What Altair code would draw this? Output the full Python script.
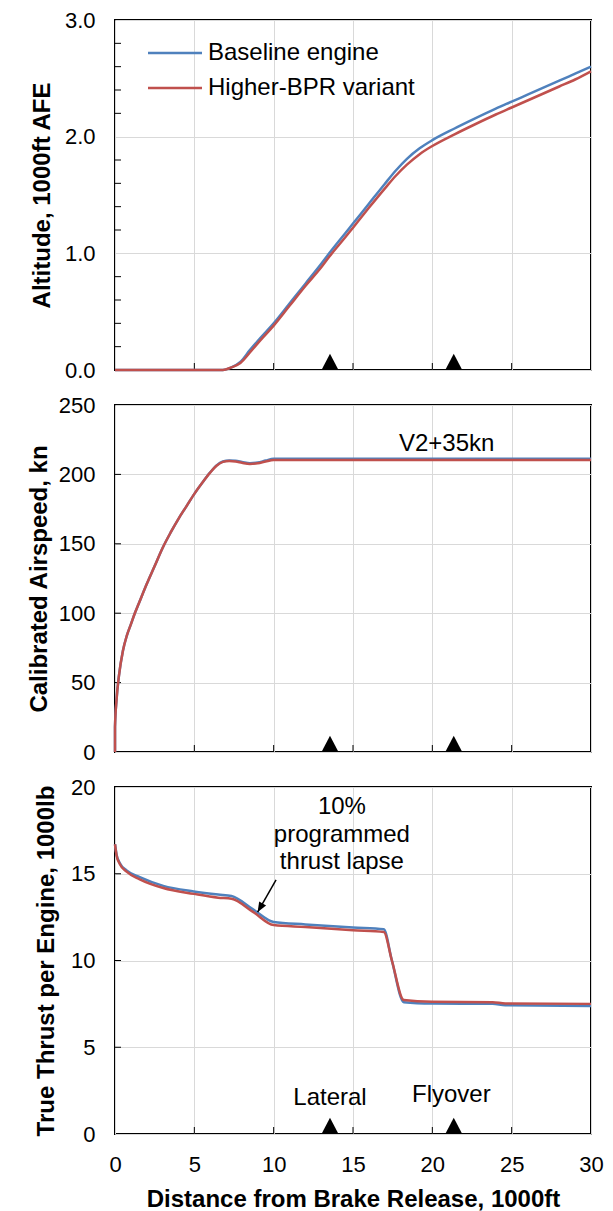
import altair as alt
import pandas as pd

FONT = "Liberation Sans"
SERIES = ["Baseline engine", "Higher-BPR variant"]
COLORS = ["#4F81BD", "#C0504D"]

# ---------------- data ----------------
alt_dist = [0, 6.8, 7.3, 7.9, 8.5, 9.2, 10.0, 11.0, 12.0, 13.0, 13.5, 14.5, 15.0, 16.0,
            17.0, 17.7, 18.4, 19.2, 20.0, 21.4, 22.6, 24.0, 25.0, 26.0, 27.0, 28.0, 29.0, 30.0]
alt_base = [0, 0, 0.02, 0.07, 0.17, 0.28, 0.40, 0.57, 0.74, 0.91, 1.0, 1.17, 1.255, 1.425,
            1.595, 1.71, 1.81, 1.90, 1.97, 2.07, 2.15, 2.24, 2.30, 2.36, 2.42, 2.48, 2.54, 2.60]
alt_bpr = [0, 0, 0.02, 0.06, 0.15, 0.26, 0.38, 0.55, 0.72, 0.88, 0.97, 1.135, 1.22, 1.39,
           1.555, 1.665, 1.76, 1.85, 1.92, 2.02, 2.10, 2.19, 2.25, 2.31, 2.37, 2.43, 2.49, 2.56]

cas_dist = [0, 0, 0.1, 0.25, 0.5, 0.75, 1.0, 1.25, 1.5, 2.0, 2.5, 3.0, 3.5, 4.0, 4.5,
            5.0, 5.5, 6.0, 6.4, 6.8, 7.2, 7.6, 8.0, 8.5, 9.0, 9.5, 10.0, 30.0]
cas_base = [0, 18, 38, 55, 73, 84, 92, 100, 107, 121, 134, 147, 158, 168, 177,
            186, 194, 201.5, 206.5, 209.3, 210, 209.8, 209, 208, 208.5, 210, 211.3, 211.3]
cas_bpr = [0, 18, 38, 55, 73, 84, 92, 100, 107, 121, 134, 147, 158, 168, 177,
           186, 194, 201.3, 206.2, 209, 209.6, 209.3, 208.4, 207.5, 208, 209.3, 210.3, 210.3]

thr_dist = [0, 0.1, 0.3, 0.73, 1.56, 3.04, 4.96, 6.5, 7.34, 8.7, 10.0, 12.0, 15.0, 16.94,
            17.45, 18.2, 20.0, 23.8, 24.6, 30.0]
thr_base = [16.7, 16.1, 15.62, 15.19, 14.8, 14.3, 13.98, 13.8, 13.72, 12.95, 12.22, 12.08,
            11.9, 11.8, 10.0, 7.6, 7.52, 7.5, 7.42, 7.38]
thr_bpr = [16.7, 16.05, 15.56, 15.12, 14.68, 14.18, 13.84, 13.62, 13.56, 12.8, 12.04, 11.93,
           11.74, 11.64, 10.0, 7.72, 7.62, 7.6, 7.52, 7.5]

x_ticks = [0, 5, 10, 15, 20, 25, 30]
x_inner = [5, 10, 15, 20, 25]
alt_ticks = [0, 1, 2, 3]
alt_minor = [0.2, 0.4, 0.6, 0.8, 1.2, 1.4, 1.6, 1.8, 2.2, 2.4, 2.6, 2.8]
cas_ticks = [0, 50, 100, 150, 200, 250]
cas_inner = [50, 100, 150, 200]
thr_ticks = [0, 5, 10, 15, 20]
thr_inner = [5, 10, 15]

station_dist = [13.55, 21.35]
station_names = ["Lateral", "Flyover"]
station_text_x = [13.55, 21.2]
station_text_y = [2.05, 2.25]

note_lines = ["10%", "programmed", "thrust lapse"]
note_x = [14.3, 14.3, 14.3]
note_y = [18.85, 17.25, 15.65]
arrow_from = (10.15, 14.65)
arrow_to = (8.99, 12.79)

v2_text = "V2+35kn"
v2_pos = (20.9, 222)

W = 476
H1, H2, H3 = 350, 347, 347
LBL = 22
TTL = 24
TXT = 24

xs = alt.Scale(domain=[0, 30], nice=False, zero=False)
x_hidden = alt.Axis(values=x_ticks, labels=False, title=None, grid=True)
x_bottom = alt.Axis(values=x_ticks, labelFontSize=LBL, labelPadding=20, labelFlush=False,
                    title="Distance from Brake Release, 1000ft", titleFontSize=TTL,
                    titleFontWeight="bold", titlePadding=12, grid=True)


def y_axis(vals, fmt, title, tx):
    return alt.Axis(values=vals, format=fmt, labelFontSize=LBL, labelPadding=20,
                    title=title, titleFontSize=TTL, titleFontWeight="bold",
                    titleX=tx, titleBaseline="middle", grid=True)


def panel(dist, ys_list, dom, yax, xax, H, inner_y):
    ysc = alt.Scale(domain=dom, nice=False, zero=False)
    X = alt.X("d:Q", scale=xs, axis=xax)
    Y = alt.Y("v:Q", scale=ysc, axis=yax)
    layers = []
    # inward ticks on bottom axis
    tdf = pd.DataFrame({"d": x_inner})
    layers.append(alt.Chart(tdf).mark_rule(color="black", strokeWidth=1).encode(
        x=X, y=alt.value(H), y2=alt.value(H - 7)))
    # inward ticks on left axis
    ydf = pd.DataFrame({"v": inner_y})
    layers.append(alt.Chart(ydf).mark_rule(color="black", strokeWidth=1).encode(
        y=Y, x=alt.value(0), x2=alt.value(6)))
    for name, col, ys in zip(SERIES, COLORS, ys_list):
        df = pd.DataFrame({"d": dist, "v": ys, "i": list(range(len(dist))), "s": name})
        layers.append(alt.Chart(df).mark_line(color=col, strokeWidth=2.5, interpolate="monotone").encode(
            x=X, y=Y, order="i:Q"))
    # station markers
    sdf = pd.DataFrame({"d": station_dist, "v": [dom[0]] * len(station_dist)})
    layers.append(alt.Chart(sdf).mark_point(shape="M 0 -1.9 L 1 0 L -1 0 Z", filled=True,
                                            color="black", opacity=1, size=289,
                                            strokeWidth=0).encode(x=X, y=Y))
    return layers, X, Y


# ---------- panel 1 ----------
l1, X1, Y1 = panel(alt_dist, [alt_base, alt_bpr], [0, 3],
                   y_axis(alt_ticks, ".1f", "Altitude, 1000ft AFE", -73), x_hidden, H1, alt_minor)
leg_rows = []
for k, (name, col) in enumerate(zip(SERIES, COLORS)):
    yy = 33 + k * 35
    leg_rows.append(alt.Chart(pd.DataFrame({"s": [name]})).mark_rule(color=col, strokeWidth=2.5).encode(
        x=alt.value(33), x2=alt.value(87), y=alt.value(yy)))
    leg_rows.append(alt.Chart(pd.DataFrame({"s": [name]})).mark_text(
        align="left", baseline="middle", fontSize=TXT, font=FONT, color="black").encode(
        x=alt.value(93), y=alt.value(yy), text="s:N"))
p1 = alt.layer(*l1, *leg_rows).properties(width=W, height=H1)

# ---------- panel 2 ----------
l2, X2, Y2 = panel(cas_dist, [cas_base, cas_bpr], [0, 250],
                   y_axis(cas_ticks, "d", "Calibrated Airspeed, kn", -76), x_hidden, H2, cas_inner)
v2 = alt.Chart(pd.DataFrame({"d": [v2_pos[0]], "v": [v2_pos[1]], "t": [v2_text]})).mark_text(
    align="center", baseline="middle", fontSize=TXT, font=FONT, color="black").encode(
    x=X2, y=Y2, text="t:N")
p2 = alt.layer(*l2, v2).properties(width=W, height=H2)

# ---------- panel 3 ----------
l3, X3, Y3 = panel(thr_dist, [thr_base, thr_bpr], [0, 20],
                   y_axis(thr_ticks, "d", "True Thrust per Engine, 1000lb", -69), x_bottom, H3, thr_inner)
note = alt.Chart(pd.DataFrame({"d": note_x, "v": note_y, "t": note_lines})).mark_text(
    align="center", baseline="middle", fontSize=TXT, font=FONT, color="black").encode(
    x=X3, y=Y3, text="t:N")
stn = alt.Chart(pd.DataFrame({"d": station_text_x, "v": station_text_y, "t": station_names})).mark_text(
    align="center", baseline="middle", fontSize=TXT, font=FONT, color="black").encode(
    x=X3, y=Y3, text="t:N")
adf = pd.DataFrame({"d": [arrow_from[0]], "v": [arrow_from[1]],
                    "d2": [arrow_to[0]], "v2": [arrow_to[1]]})
shaft = alt.Chart(adf).mark_rule(color="black", strokeWidth=1.5).encode(
    x=X3, y=Y3, x2="d2:Q", y2="v2:Q")
hdf = pd.DataFrame({"d": [arrow_to[0]], "v": [arrow_to[1]]})
head = alt.Chart(hdf).mark_point(shape="M 0 0 L 0.8 2 L -0.8 2 Z", angle=210, size=100,
                                 filled=True, color="black", opacity=1, strokeWidth=0).encode(x=X3, y=Y3)
p3 = alt.layer(*l3, note, stn, shaft, head).properties(width=W, height=H3)

chart = alt.vconcat(p1, p2, p3, spacing=35, bounds="flush").properties(
    padding={"left": 18, "top": 0, "right": 0, "bottom": 0}
).configure_view(stroke="black", strokeWidth=2).configure_axis(
    labelFont=FONT, titleFont=FONT, labelColor="black", titleColor="black",
    gridColor="#d9d9d9", gridWidth=1, domain=False, ticks=False, tickSize=0
)

chart.save("out.html", embed_options={"renderer": "svg", "actions": False})
